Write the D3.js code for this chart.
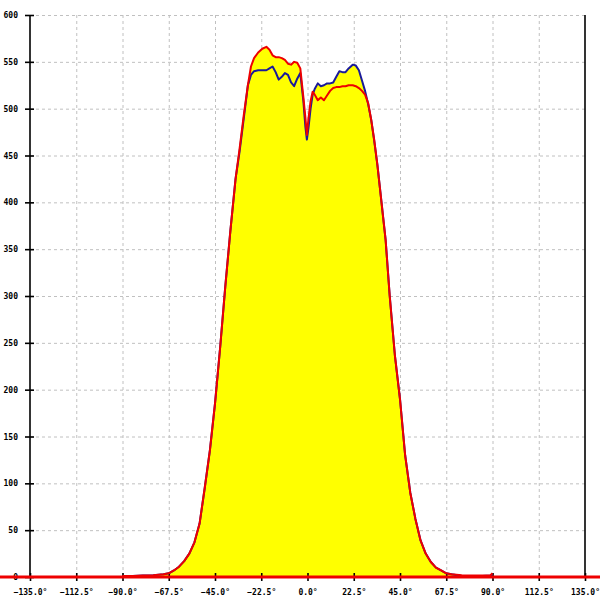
<!DOCTYPE html>
<html><head><meta charset="utf-8">
<script src="https://cdn.jsdelivr.net/npm/d3@7"></script>
<style>body{margin:0;background:#fff}svg{display:block}</style>
</head><body>
<svg id="c" width="600" height="600"></svg>
<script>
const angles = [-90,-85,-80,-75,-70,-67.5,-65,-62.5,-60,-57.5,-55,-52.5,-50,-47.5,-45,-42.5,-40,-37.5,-35,-33,-31,-29,-27.5,-26,-24,-22,-20,-18.5,-17,-15.5,-14,-12.5,-11,-9.5,-8,-6.5,-5,-3.5,-2,-1,-0.3,0.5,1.5,2.5,3.5,5,6.5,8,9.5,11,12.5,14,15.5,17,18.5,20,22,23.5,25,26.5,28,29.5,31,32.5,34,36,38,40,42.5,45,47.5,50,52.5,55,57.5,60,62.5,65,67.5,70,75,80,85,89,90];
const redValues = [1,1,1.5,2,3,4,7,11,17,25,37,57,95,135,185,245,310,370,425,458,493,525,545,554,560,564,566,563,557,555,555,554,552,548,547,550,549,543,512,490,472,490,508,518,515,509,512,509,514,519,522,523,523,524,524,525,525,524,522,519,515,506,488,466,440,400,360,300,237,190,130,90,62,39,25,16,10,7,4,3,2,1.5,1.5,2,4];
const blueValues = [1,1,1.5,2,3,4,7,11,17,25,37,57,95,135,185,245,310,370,425,455,490,525,536,540,541,541,541,543,545,539,531,534,538,536,528,524,532,538,508,480,467,480,500,515,521,527,524,525,527,527,528,534,540,539,539,543,547,546,541,530,519,505,488,465,440,400,360,300,237,190,130,90,62,39,25,16,10,7,4,3,1,1,1,1.5,3];
const xTicks = [-135,-112.5,-90,-67.5,-45,-22.5,0,22.5,45,67.5,90,112.5,135];
const yTicks = [0,50,100,150,200,250,300,350,400,450,500,550,600];

const svg = d3.select("#c");
const L = 30, R = 585, T = 15, B = 577;
const x = d3.scaleLinear().domain([-135,135]).range([L,R]);
const y = d3.scaleLinear().domain([0,600]).range([B,T]);
const font = "'DejaVu Sans Mono', monospace";

// grid
svg.append("g").selectAll("line").data(xTicks.slice(1,-1)).join("line")
  .attr("x1",d=>x(d)+0.5).attr("x2",d=>x(d)+0.5).attr("y1",T).attr("y2",B)
  .attr("stroke","#c0c0c0").attr("stroke-dasharray","3,3");
svg.append("g").selectAll("line").data(yTicks.slice(1)).join("line")
  .attr("x1",L).attr("x2",R).attr("y1",d=>y(d)+0.5).attr("y2",d=>y(d)+0.5)
  .attr("stroke","#c0c0c0").attr("stroke-dasharray","3,3");

const pts = angles.map((a,i)=>({a, r:redValues[i], b:blueValues[i]}));
// fill
svg.append("path").datum(pts)
  .attr("d", d3.area().x(d=>x(d.a)).y0(y(0)).y1(d=>y(Math.max(d.r,d.b))))
  .attr("fill","#ffff00");

// axes
const yAxis = svg.append("g").attr("transform",`translate(${L},0)`)
  .call(d3.axisLeft(y).tickValues(yTicks).tickSize(4).tickPadding(8).tickFormat(d=>d));
yAxis.selectAll(".tick line").attr("x2",-5).attr("x1",4);
const yAxisR = svg.append("g").attr("transform",`translate(${R},0)`)
  .call(d3.axisRight(y).tickValues([]).tickSizeOuter(0));
const xAxis = svg.append("g").attr("transform",`translate(0,${B})`)
  .call(d3.axisBottom(x).tickValues(xTicks).tickSize(4).tickPadding(8).tickFormat(d=>d3.format(".1f")(d)+"°"));
xAxis.selectAll(".tick line").attr("y1",-4).attr("y2",4);
[yAxis,yAxisR,xAxis].forEach(g=>{
  g.select(".domain").attr("stroke","#000").attr("stroke-width",1.6);
  g.selectAll(".tick line").attr("stroke","#000").attr("stroke-width",1.6);
  g.selectAll("text").attr("font-family",font).attr("font-size",8).attr("fill","#000").attr("font-weight","bold");
});
yAxis.select(".domain").attr("d",`M0,${B}V${T}`);
yAxisR.select(".domain").attr("d",`M0,${B}V${T}`);
xAxis.select(".domain").attr("d",`M${L},0H${R}`);

// lines
const line = key => d3.line().x(d=>x(d.a)).y(d=>y(d[key]));
svg.append("path").datum(pts).attr("d",line("b")).attr("fill","none")
  .attr("stroke","#1a1a9a").attr("stroke-width",2).attr("stroke-linejoin","round");
svg.append("path").datum(pts).attr("d",line("r")).attr("fill","none")
  .attr("stroke","#ee0000").attr("stroke-width",2).attr("stroke-linejoin","round");
// baseline red
svg.append("line").attr("x1",0).attr("x2",600).attr("y1",y(0)).attr("y2",y(0))
  .attr("stroke","#ee0000").attr("stroke-width",3);
</script>
</body></html>
